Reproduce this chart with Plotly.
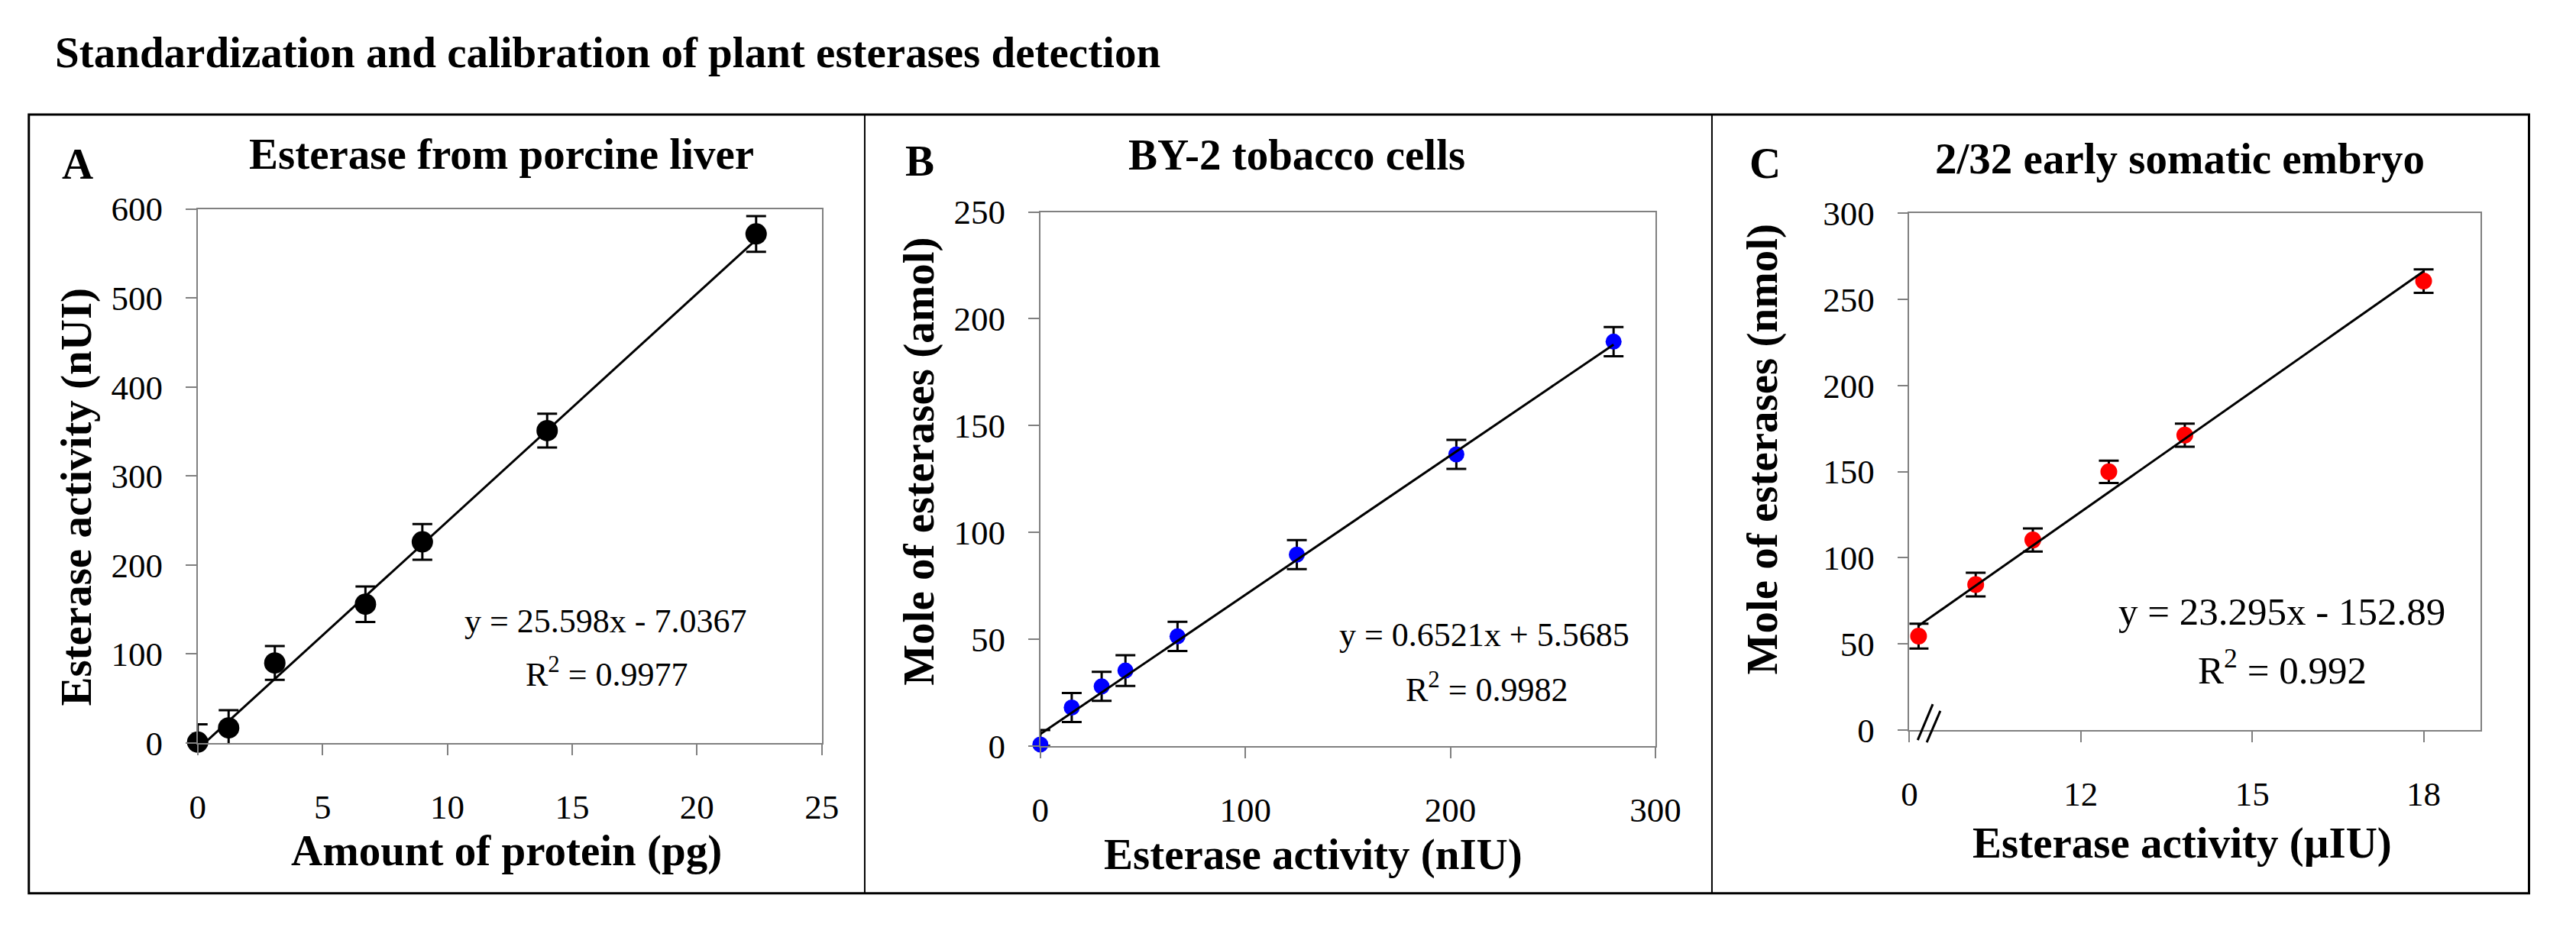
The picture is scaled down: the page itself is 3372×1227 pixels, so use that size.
import plotly.graph_objects as go

W, H = 3372, 1227
OFF = 8  # page body margin in the browser, subtracted from measured positions

# Panel A: esterase from porcine liver
a_x = [0, 1.24, 3.09, 6.72, 9.0, 14.0, 22.37]
a_y = [1, 17, 90, 156, 226, 351, 572]
a_err = [20, 20, 19, 20, 20, 19, 20]
a_err_minus = [1, 20, 19, 20, 20, 19, 20]
a_slope, a_icpt = 25.598, -7.0367

# Panel B: BY-2 tobacco cells
b_x = [0, 15.3, 29.9, 41.5, 66.9, 125.1, 202.9, 279.6]
b_y = [0.7, 18, 27.9, 35.3, 51.3, 89.6, 136.5, 189.3]
b_err = [6.8, 6.8, 6.8, 7.2, 6.8, 6.8, 6.8, 6.8]
b_err_minus = [0.7, 6.8, 6.8, 7.2, 6.8, 6.8, 6.8, 6.8]
b_slope, b_icpt = 0.6521, 5.5685

# Panel C: 2/32 early somatic embryo (broken x axis, first tick shown as 0)
c_x = [9.16, 10.16, 11.16, 12.49, 13.82, 18.0]
c_y = [54.5, 84.4, 110.3, 149.9, 171.2, 260.7]
c_err = [7.2, 6.9, 6.7, 6.5, 6.7, 6.8]
c_slope, c_icpt = 23.295, -152.89
c_tickvals = [9, 12, 15, 18]
c_ticktext = ["0", "12", "15", "18"]


def px(x):
    return (x - OFF) / W


def py(y):
    return 1 - (y - OFF) / H


SERIF = "Liberation Serif"


def trend(xs, slope, icpt):
    ends = [min(xs), max(xs)]
    return ends, [slope * v + icpt for v in ends]


fig = go.Figure()

panels = [
    (a_x, a_y, a_err, a_err_minus, "black", 28, a_slope, a_icpt, "x", "y"),
    (b_x, b_y, b_err, b_err_minus, "#0000ff", 21, b_slope, b_icpt, "x2", "y2"),
    (c_x, c_y, c_err, c_err, "#ff0000", 22, c_slope, c_icpt, "x3", "y3"),
]
for xs, ys, ep, em, col, size, slope, icpt, xa, ya in panels:
    fig.add_trace(go.Scatter(
        x=xs, y=ys, mode="markers", xaxis=xa, yaxis=ya, cliponaxis=False,
        marker=dict(color=col, size=size, line=dict(width=0)),
        error_y=dict(type="data", symmetric=False, array=ep, arrayminus=em,
                     color="black", thickness=3, width=13),
        showlegend=False, hoverinfo="x+y"))
    tx, ty = trend(xs, slope, icpt)
    fig.add_trace(go.Scatter(
        x=tx, y=ty, mode="lines", xaxis=xa, yaxis=ya,
        line=dict(color="black", width=3), showlegend=False, hoverinfo="skip"))

axis_style = dict(showline=True, linecolor="#808080", linewidth=1.5, mirror=True,
                  ticks="outside", ticklen=14, tickwidth=1.5, tickcolor="#808080",
                  showgrid=False, zeroline=False,
                  tickfont=dict(family=SERIF, size=45, color="black"))
xstyle = dict(axis_style, ticklabelstandoff=29)
ystyle = dict(axis_style, ticklabelstandoff=21)

fig.update_layout(
    width=W, height=H, margin=dict(l=0, r=0, t=0, b=0),
    paper_bgcolor="white", plot_bgcolor="white",
    xaxis=dict(xstyle, domain=[px(251), px(1079)], range=[0, 25], dtick=5, anchor="y"),
    yaxis=dict(ystyle, domain=[py(989), py(260)], range=[0, 600], dtick=100, anchor="x"),
    xaxis2=dict(xstyle, domain=[px(1369), px(2185)], range=[0, 300], dtick=100, anchor="y2"),
    yaxis2=dict(ystyle, domain=[py(993), py(264)], range=[0, 250], dtick=50, anchor="x2"),
    xaxis3=dict(xstyle, domain=[px(2522), px(3280)], range=[9, 19.0],
                tickvals=c_tickvals, ticktext=c_ticktext, anchor="y3"),
    yaxis3=dict(ystyle, domain=[py(971), py(266)], range=[0, 300], dtick=50, anchor="x3"),
)


def note(x, y, text, size=44, bold=False, angle=0, xanchor="center"):
    if bold:
        text = "<b>" + text + "</b>"
    fig.add_annotation(x=px(x), y=py(y), xref="paper", yref="paper", text=text,
                       showarrow=False, xanchor=xanchor, yanchor="middle",
                       textangle=angle, font=dict(family=SERIF, size=size, color="black"))


note(60, 46, "Standardization and calibration of plant esterases detection", 57, True, xanchor="left")

# panel letters and titles
note(92, 198, "A", 57, True)
note(1209, 194, "B", 57, True)
note(2330, 197, "C", 57, True)
note(654, 185, "Esterase from porcine liver", 57, True)
note(1709, 186, "BY-2 tobacco cells", 57, True)
note(2881, 191, "2/32 early somatic embryo", 57, True)

# axis titles
note(90, 653, "Esterase activity (nUI)", 57, True, angle=-90)
note(661, 1136, "Amount of protein (pg)", 57, True)
note(1208, 604, "Mole of esterases (amol)", 57, True, angle=-90)
note(1731, 1141, "Esterase activity (nIU)", 57, True)
note(2327, 588, "Mole of esterases (nmol)", 57, True, angle=-90)
note(2884, 1126, "Esterase activity (µIU)", 57, True)

# trendline equations
note(792, 823, "y = 25.598x - 7.0367")
note(794, 893, "R<sup>2</sup> = 0.9977")
note(1958, 841, "y = 0.6521x + 5.5685")
note(1962, 913, "R<sup>2</sup> = 0.9982")
note(3016, 810, "y = 23.295x - 152.89", 51)
note(3017, 886, "R<sup>2</sup> = 0.992", 51)

# outer frame and panel dividers
fig.add_shape(type="rect", xref="paper", yref="paper",
              x0=px(27), x1=px(3344), y0=py(1194), y1=py(131),
              line=dict(color="black", width=3))
for xd in [1136, 2260]:
    fig.add_shape(type="line", xref="paper", yref="paper",
                  x0=px(xd), x1=px(xd), y0=py(1194), y1=py(131),
                  line=dict(color="black", width=2))

# axis break marks on panel C
for (x0, y0, x1, y1) in [(2553, 936, 2533, 985), (2563, 945, 2545, 988)]:
    fig.add_shape(type="line", xref="paper", yref="paper",
                  x0=px(x0), y0=py(y0), x1=px(x1), y1=py(y1),
                  line=dict(color="black", width=3))

fig.write_html("out.html")
